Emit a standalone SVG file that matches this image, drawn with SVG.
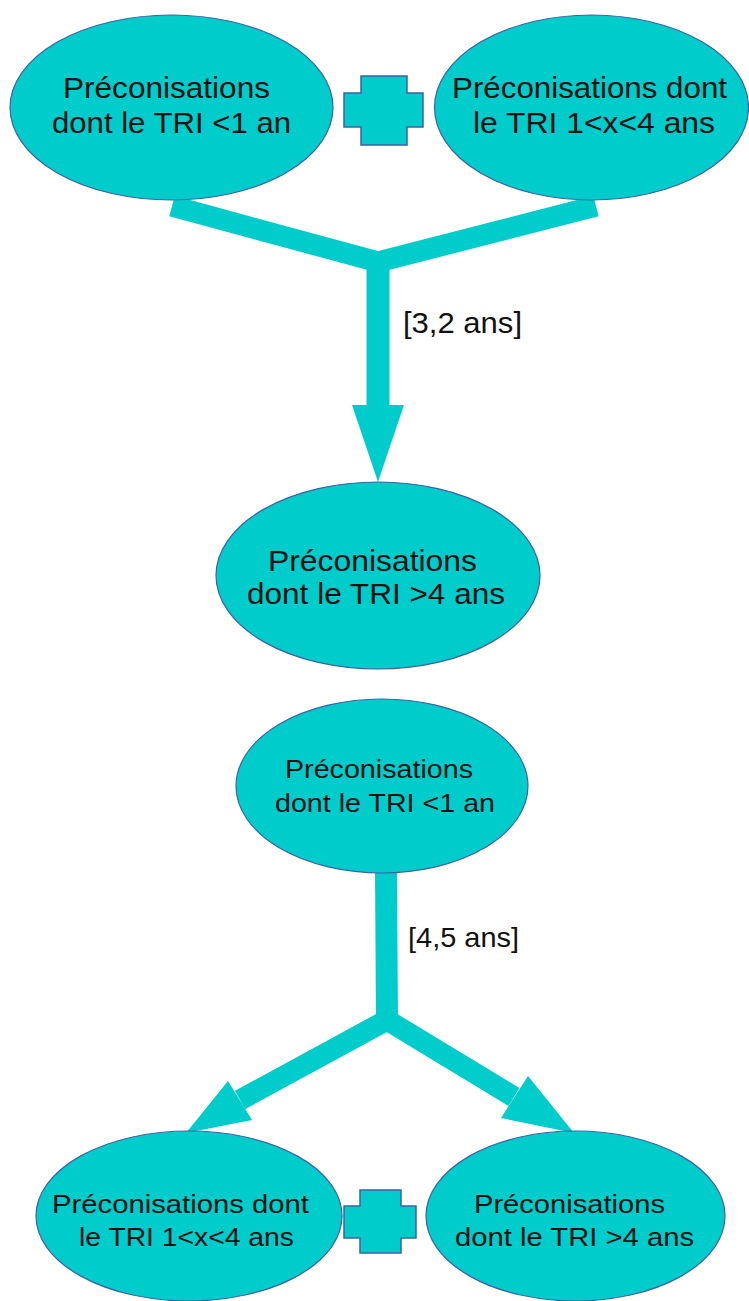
<svg xmlns="http://www.w3.org/2000/svg" width="749" height="1301" viewBox="0 0 749 1301">
<style>
.node{fill:#00cccc;stroke:#3b62a8;stroke-width:1.2}
.plus{fill:#00cccc;stroke:#3b62a8;stroke-width:1.5}
.arm{fill:none;stroke:#00cccc;stroke-linejoin:miter;stroke-linecap:butt}
.head{fill:#00cccc}
text{font-family:"Liberation Sans",Arial,sans-serif;fill:#111}
.t{font-size:29px;text-anchor:middle}
.s{font-size:26px;text-anchor:middle}
.lbl{font-size:30px}
</style>
<rect width="749" height="1301" fill="#fff"/>
<g id="connectors">
<path class="arm" d="M172,206 L378,262 L596,206" stroke-width="21"/>
<line class="arm" x1="378" y1="260" x2="378" y2="407" stroke-width="23"/>
<polygon class="head" points="352,405 404,405 378,482"/>
<line class="arm" x1="386" y1="868" x2="387" y2="1024" stroke-width="22"/>
<path class="arm" d="M240,1100 L387,1020 L514,1097" stroke-width="21"/>
<polygon class="head" points="228,1081 252,1120 186,1133"/>
<polygon class="head" points="528,1076 501,1118 574,1133"/>
<text class="lbl" x="403" y="333" textLength="119" lengthAdjust="spacingAndGlyphs">[3,2 ans]</text>
<text class="lbl" x="408" y="947" textLength="111" lengthAdjust="spacingAndGlyphs" style="font-size:28px">[4,5 ans]</text>
</g>
<g id="n1">
<ellipse class="node" cx="171.5" cy="107.5" rx="161.5" ry="92.5"/>
<text class="t" x="166.5" y="98" textLength="207" lengthAdjust="spacingAndGlyphs">Préconisations</text>
<text class="t" x="171.5" y="133" textLength="239" lengthAdjust="spacingAndGlyphs">dont le TRI &lt;1 an</text>
</g>
<g id="plus1">
<path class="plus" d="M361,76 H407 V93 H423 V127 H407 V145 H361 V127 H344 V93 H361 Z"/>
</g>
<g id="n2">
<ellipse class="node" cx="591.5" cy="107.5" rx="157" ry="92.5"/>
<text class="t" x="589.5" y="98" textLength="275" lengthAdjust="spacingAndGlyphs">Préconisations dont</text>
<text class="t" x="594" y="133" textLength="242" lengthAdjust="spacingAndGlyphs">le TRI 1&lt;x&lt;4 ans</text>
</g>
<g id="n3">
<ellipse class="node" cx="378" cy="575.5" rx="162" ry="93.5"/>
<text class="t" x="372.5" y="571" textLength="209" lengthAdjust="spacingAndGlyphs">Préconisations</text>
<text class="t" x="376" y="604" textLength="258" lengthAdjust="spacingAndGlyphs">dont le TRI &gt;4 ans</text>
</g>
<g id="n4">
<ellipse class="node" cx="382" cy="786" rx="146" ry="87"/>
<text class="s" x="379" y="778" textLength="188" lengthAdjust="spacingAndGlyphs">Préconisations</text>
<text class="s" x="385" y="812" textLength="220" lengthAdjust="spacingAndGlyphs">dont le TRI &lt;1 an</text>
</g>
<g id="n5">
<ellipse class="node" cx="189" cy="1216" rx="153" ry="85"/>
<text class="s" x="180.5" y="1213" textLength="257" lengthAdjust="spacingAndGlyphs">Préconisations dont</text>
<text class="s" x="186.5" y="1246" textLength="215" lengthAdjust="spacingAndGlyphs">le TRI 1&lt;x&lt;4 ans</text>
</g>
<g id="plus2">
<path class="plus" d="M360,1190 H401 V1206 H416 V1238 H401 V1253 H360 V1238 H344 V1206 H360 Z"/>
</g>
<g id="n6">
<ellipse class="node" cx="575.5" cy="1216" rx="149.5" ry="85"/>
<text class="s" x="569.5" y="1213" textLength="191" lengthAdjust="spacingAndGlyphs">Préconisations</text>
<text class="s" x="574.5" y="1246" textLength="239" lengthAdjust="spacingAndGlyphs">dont le TRI &gt;4 ans</text>
</g>
</svg>
